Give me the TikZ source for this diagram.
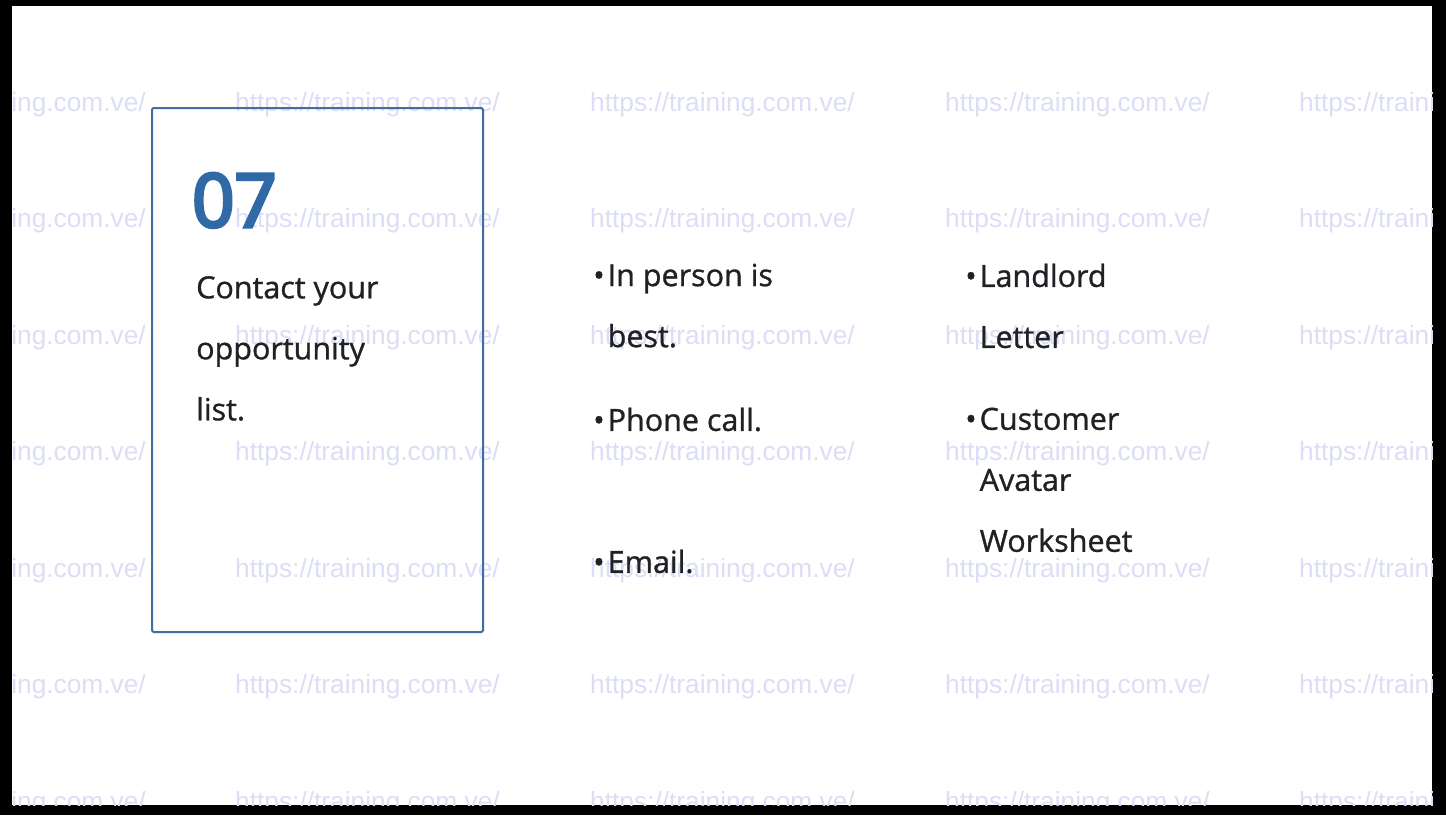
\documentclass[tikz,border=0pt]{standalone}
\usepackage{fontspec}
\setmainfont{Open Sans}
\newfontfamily\markfont{Liberation Sans}
\newfontfamily\bodyfont[FakeBold=1]{Open Sans}
\newfontfamily\numfont[FakeBold=4.5]{Open Sans}
\definecolor{boxblue}{HTML}{3F6E9F}
\definecolor{numblue}{HTML}{2F6AA6}
\definecolor{inkgrey}{HTML}{1F2124}
\definecolor{markblue}{HTML}{DCDDF6}
\tikzset{
    RA1/.style ={rectangle,anchor=north west,minimum width=331pt,minimum height=524pt,draw=boxblue,line width=2pt,rounded corners=1.5pt},
    NUM/.style ={anchor=north west,inner sep=0pt,text=numblue,font=\numfont\fontsize{74}{74}\selectfont},
    TXT/.style ={anchor=north west,inner sep=0pt,align=left,text=inkgrey,font=\bodyfont\fontsize{30.5}{61}\selectfont},
    WM/.style ={anchor=base west,inner sep=0pt,text=markblue,font=\markfont\fontsize{26.3}{26}\selectfont}}
\newcommand{\bulletmark}{\llap{\textbullet\kern3pt}}
\begin{document}
\begin{tikzpicture}[x=1pt,y=-1pt]
    \useasboundingbox (0,0) rectangle (1446,815);
    \fill[black] (0,0) rectangle (1446,815);
    \fill[white] (12,6) rectangle (1432,805);
    % watermark grid
    \begin{scope}
        \clip (12,6) rectangle (1432,805);
        \foreach \col/\xx in {a/-119,b/235,c/590,d/945,e/1299}
            \foreach \row/\yy in {1/111,2/227,3/344,4/460,5/577,6/693,7/810}
                \node[WM](wm\col\row) at(\xx,\yy){https://training.com.ve/};
    \end{scope}
    \node[RA1](card) at(151,107){};
    \node[NUM](num) at(192,173){07};
    \node[TXT](title) at(196,276){Contact your\\opportunity\\list.};
    \node[TXT](person) at(607.5,263.5){\bulletmark In person is\\best.};
    \node[TXT](phone) at(607.5,407.5){\bulletmark Phone call.};
    \node[TXT](email) at(607.5,549.5){\bulletmark Email.};
    \node[TXT](landlord) at(979.5,263.5){\bulletmark Landlord\\Letter};
    \node[TXT](avatar) at(979.5,407.5){\bulletmark Customer\\Avatar\\Worksheet};
\end{tikzpicture}
\end{document}
